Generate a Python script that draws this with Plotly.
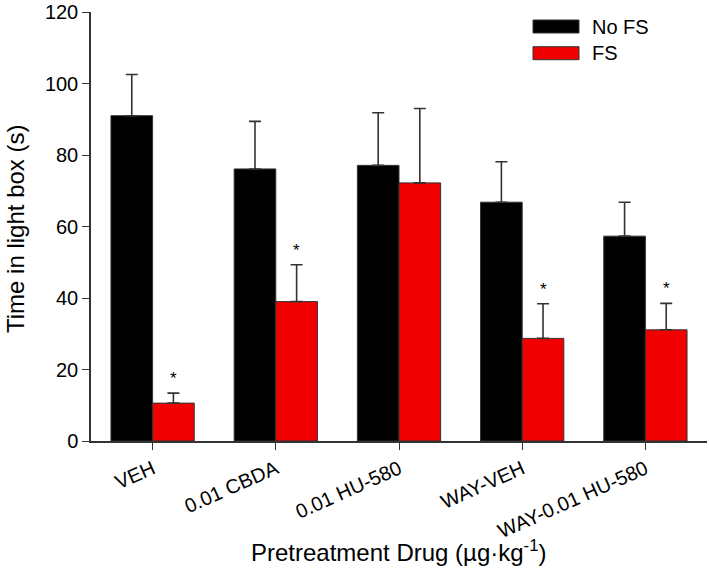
import plotly.graph_objects as go

categories = ["VEH", "0.01 CBDA", "0.01 HU-580", "WAY-VEH", "WAY-0.01 HU-580"]
no_fs = [91.0, 76.1, 77.1, 66.8, 57.3]
no_fs_err = [11.5, 13.3, 14.7, 11.3, 9.5]
fs = [10.6, 39.0, 72.2, 28.7, 31.1]
fs_err = [2.8, 10.3, 20.8, 9.7, 7.4]
significant = [True, True, False, True, True]

FONT = "Arial, Liberation Sans, sans-serif"
AXC = "#333333"

L, R, T, B = 91, 707, 12, 441
PW, PH = R - L, B - T
FW, FH = 709, 571
BARGAP = 0.324

def px(x):
    return (x - L) / PW

def py(y):
    return (B - y) / PH

fig = go.Figure()
fig.add_trace(go.Bar(
    name="No FS", x=categories, y=no_fs,
    marker=dict(color="black", line=dict(color=AXC, width=1)),
    error_y=dict(type="data", array=no_fs_err, arrayminus=[0]*5, symmetric=False,
                 color=AXC, thickness=1.6, width=6),
    showlegend=False,
))
fig.add_trace(go.Bar(
    name="FS", x=categories, y=fs,
    marker=dict(color="#f00000", line=dict(color=AXC, width=1)),
    error_y=dict(type="data", array=fs_err, arrayminus=[0]*5, symmetric=False,
                 color=AXC, thickness=1.6, width=6),
    showlegend=False,
))

# significance stars above FS bars (centre of the second bar in each group)
half_bar = (1 - BARGAP) / 4
for i, (c, v, e, s) in enumerate(zip(categories, fs, fs_err, significant)):
    if s:
        fig.add_annotation(x=i + half_bar, y=v + e, xref="x", yref="y", text="*",
                           showarrow=False, yanchor="bottom", yshift=3,
                           font=dict(family=FONT, size=17, color="black"))

# custom legend
legend_items = [("No FS", "black"), ("FS", "#f00000")]
for k, (lab, col) in enumerate(legend_items):
    y0 = 20 + k * 26.7
    fig.add_shape(type="rect", xref="paper", yref="paper",
                  x0=px(533), x1=px(579), y0=py(y0 + 13), y1=py(y0),
                  fillcolor=col, line=dict(color=AXC, width=1))
    fig.add_annotation(xref="paper", yref="paper", x=px(590),
                       y=py(y0 + 6.5), text=lab, showarrow=False,
                       xanchor="left", yanchor="middle",
                       font=dict(family=FONT, size=20, color="black"))

# axis titles
fig.add_annotation(xref="paper", yref="paper", x=px(399), y=py(551),
                   text="Pretreatment Drug (µg·kg<sup>-1</sup>)", showarrow=False,
                   xanchor="center", yanchor="middle",
                   font=dict(family=FONT, size=24, color="black"))
fig.add_annotation(xref="paper", yref="paper", x=px(15), y=py(229),
                   text="Time in light box (s)", showarrow=False, textangle=-90,
                   xanchor="center", yanchor="middle",
                   font=dict(family=FONT, size=24, color="black"))

fig.update_layout(
    width=FW, height=FH,
    margin=dict(l=L, r=FW - R, t=T, b=FH - B),
    paper_bgcolor="white", plot_bgcolor="white",
    barmode="group", bargap=BARGAP, bargroupgap=0,
    font=dict(family=FONT, size=20, color="black"),
    xaxis=dict(
        range=[-0.5, 4.5], showline=True, linecolor=AXC, linewidth=1.5,
        ticks="outside", ticklen=7, tickcolor=AXC, tickangle=-24,
        tickfont=dict(size=20), showgrid=False, automargin=False,
    ),
    yaxis=dict(
        range=[0, 120], dtick=20, showline=True, linecolor=AXC, linewidth=1.5,
        ticks="outside", ticklen=7, tickcolor=AXC, showgrid=False, zeroline=False,
        tickfont=dict(size=20), automargin=False,
    ),
)

fig.write_html("out.html", config={"displayModeBar": False},
               post_script="document.body.style.margin='0';")
